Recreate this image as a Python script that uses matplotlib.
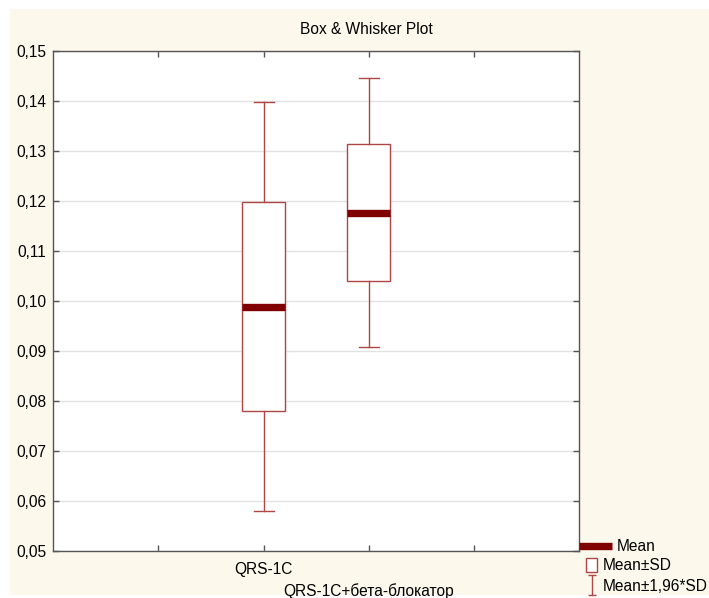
import matplotlib.pyplot as plt
import numpy as np
from matplotlib.lines import Line2D
from matplotlib.patches import Rectangle, Patch
from matplotlib.collections import LineCollection
from matplotlib.container import ErrorbarContainer
from matplotlib.legend_handler import HandlerErrorbar

plt.rcParams['font.family'] = ['Liberation Sans', 'DejaVu Sans']

# Data
categories = ['QRS-1C', 'QRS-1C+бета-блокатор']
means = [0.0989, 0.1177]
sds = [0.0209, 0.01375]
k = 1.96
yticks = [0.05, 0.06, 0.07, 0.08, 0.09, 0.10, 0.11, 0.12, 0.13, 0.14, 0.15]

box_c = '#b04545'
mean_c = '#800000'
cream = '#fdf8ec'
fs = 11.2

fig = plt.figure(figsize=(7.09, 5.98), dpi=100)
fig.patch.set_facecolor('white')
fig.add_artist(Rectangle((10 / 709, 3 / 598), 1, 1 - 12 / 598, transform=fig.transFigure,
                         facecolor=cream, edgecolor='none', zorder=-10))

ax = fig.add_axes([53.3 / 709, 1 - 551 / 598, (579 - 53.3) / 709, (551 - 51.3) / 598])
ax.set_facecolor('white')

positions = [2, 3]
stats = []
for name, m, s in zip(categories, means, sds):
    stats.append(dict(label=name, med=m, q1=m - s, q3=m + s,
                      whislo=m - k * s, whishi=m + k * s, fliers=[]))

ax.bxp(stats, positions=positions, widths=0.405, showfliers=False,
       patch_artist=True, manage_ticks=False, capwidths=0.19,
       boxprops=dict(facecolor='white', edgecolor=box_c, linewidth=1.0),
       whiskerprops=dict(color=box_c, linewidth=1.0),
       capprops=dict(color=box_c, linewidth=1.0),
       medianprops=dict(color=mean_c, linewidth=5.3, solid_capstyle='butt'),
       zorder=3)

ax.set_xlim(0, 5)
ax.set_ylim(0.05, 0.15)
ax.set_yticks(yticks)
ax.set_yticklabels([f'{v:.2f}'.replace('.', ',') for v in yticks])
# first category on a major tick, second one staggered on a minor tick
ax.set_xticks([1, 2, 4])
ax.set_xticklabels(['', categories[0], ''])
ax.set_xticks([3], minor=True)
ax.set_xticklabels([categories[1]], minor=True)

ax.yaxis.grid(True, color='#e2e2e2', linewidth=1.0, zorder=0)
ax.set_axisbelow(True)
ax.tick_params(which='both', direction='in', length=4, width=1, color='#555555',
               top=True, right=True, labelsize=fs, pad=5)
ax.tick_params(axis='x', which='major', pad=8)
ax.tick_params(axis='x', which='minor', pad=23)
for sp in ax.spines.values():
    sp.set_color('#555555')
    sp.set_linewidth(1.0)

fig.text(366.7 / 709, 1 - 29 / 598, 'Box & Whisker Plot', ha='center', va='center',
         fontsize=fs)

# legend
h_mean = Line2D([], [], color=mean_c, linewidth=5.3, solid_capstyle='butt')
leg1 = fig.legend([h_mean], ['Mean'],
                  loc='upper left', bbox_to_anchor=(579 / 709, 1 - 539 / 598),
                  bbox_transform=fig.transFigure, frameon=False, fontsize=fs,
                  borderpad=0, borderaxespad=0, handlelength=2.13, handletextpad=0.32)

h_box = Patch(facecolor='white', edgecolor=box_c, linewidth=1.0)
capline = Line2D([], [], color=box_c, linewidth=1.0, markersize=6, markeredgewidth=1.0)
barcol = LineCollection([], colors=box_c, linewidths=1.0)
h_wh = ErrorbarContainer((None, (capline,), (barcol,)), has_xerr=False, has_yerr=True)

fig.legend([h_box, h_wh], ['Mean±SD', 'Mean±1,96*SD'],
           loc='upper left', bbox_to_anchor=(586 / 709, 1 - 558 / 598),
           bbox_transform=fig.transFigure, frameon=False, fontsize=fs,
           borderpad=0, borderaxespad=0, handlelength=0.72, handleheight=1.0,
           handletextpad=0.37, labelspacing=0.35, numpoints=1,
           handler_map={ErrorbarContainer: HandlerErrorbar(yerr_size=0.62)})

fig.savefig('out.png', dpi=100, facecolor=fig.get_facecolor())
